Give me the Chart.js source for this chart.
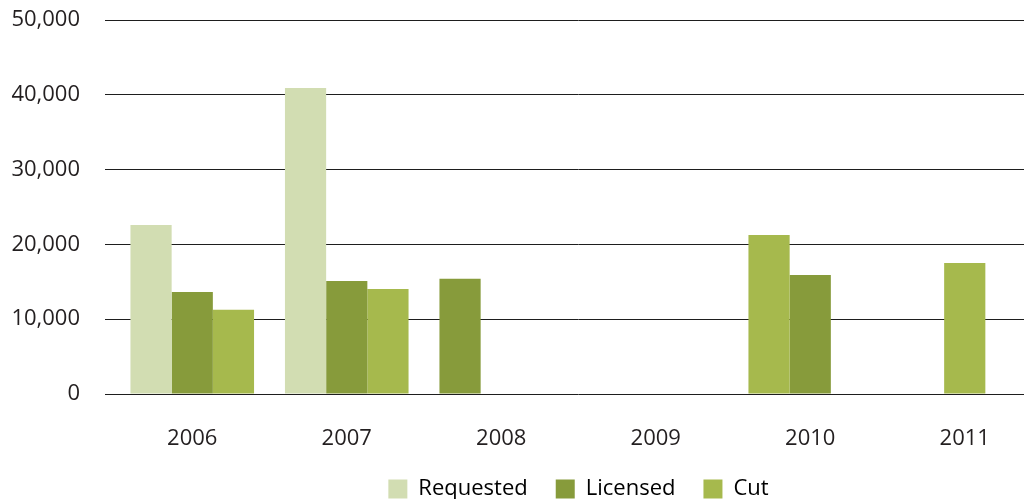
<!DOCTYPE html>
<html>
<head>
<meta charset="utf-8">
<script src="https://cdn.jsdelivr.net/npm/chart.js@4.4.1/dist/chart.umd.min.js"></script>
<style>
  html, body { margin: 0; padding: 0; background: #fff; }
  #frame { width: 1024px; height: 499px; overflow: hidden; position: relative; }
  #wrap { width: 1042px; height: 510px; position: absolute; left: 0; top: 0; }
</style>
</head>
<body>
<div id="frame"><div id="wrap"><canvas id="chart"></canvas></div></div>
<script>
const categories = ['2006', '2007', '2008', '2009', '2010', '2011'];
const seriesNames = ['Requested', 'Licensed', 'Cut'];
const requested = [22600, 40900, null, null, null, null];
const licensed = [13650, 15100, 15400, null, 15900, null];
const cut = [11250, 14050, null, null, 21250, 17500];
const yTicks = [0, 10000, 20000, 30000, 40000, 50000];

// order in which the bars sit inside each year, as the source drew them
const barOrder = [
    ['Requested', 'Licensed', 'Cut'],
    ['Requested', 'Licensed', 'Cut'],
    ['Licensed', null, null],
    [null, null, null],
    ['Cut', 'Licensed', null],
    [null, 'Cut', null],
];

const COLORS = {
    Requested: '#d2ddb2',
    Licensed: '#879b3b',
    Cut: '#a6b94d',
};
const VALUES = { Requested: requested, Licensed: licensed, Cut: cut };

const INK = '#231f20';
const FONT = '"Open Sans", sans-serif';

function fmt(v) {
    return String(v).replace(/\B(?=(\d{3})+(?!\d))/g, ',');
}

const datasets = [0, 1, 2].map(slot => ({
    label: 'slot' + slot,
    data: categories.map((c, i) => {
        const name = barOrder[i][slot];
        return name ? VALUES[name][i] : null;
    }),
    backgroundColor: categories.map((c, i) => {
        const name = barOrder[i][slot];
        return name ? COLORS[name] : 'rgba(0,0,0,0)';
    }),
    borderWidth: 0,
    categoryPercentage: 0.8,
    barPercentage: 1.0,
}));

const LEGEND_PAD = 28;

new Chart(document.getElementById('chart'), {
    type: 'bar',
    data: { labels: categories, datasets },
    options: {
        responsive: true,
        maintainAspectRatio: false,
        animation: false,
        layout: { padding: { left: 10, right: 0, top: 20, bottom: 0 } },
        plugins: {
            tooltip: { enabled: false },
            legend: {
                position: 'bottom',
                fullSize: false,
                onClick: null,
                labels: {
                    boxWidth: 19,
                    boxHeight: 19,
                    padding: LEGEND_PAD,
                    color: INK,
                    font: { family: FONT, size: 22 },
                    generateLabels: () => seriesNames.map((name, i) => ({
                        text: name,
                        fillStyle: COLORS[name],
                        strokeStyle: COLORS[name],
                        lineWidth: 0,
                        hidden: false,
                        datasetIndex: i,
                    })),
                },
            },
        },
        scales: {
            x: {
                grid: { display: false, drawTicks: false },
                border: { display: false },
                ticks: {
                    padding: 32,
                    color: INK,
                    font: { family: FONT, size: 22 },
                },
                afterFit: (scale) => { scale.height = 56; },
            },
            y: {
                min: 0,
                max: 50000,
                afterBuildTicks: (scale) => { scale.ticks = yTicks.map(v => ({ value: v })); },
                grid: { color: '#1e1e1e', lineWidth: 1, tickLength: 10, drawTicks: true },
                border: { display: false },
                ticks: {
                    padding: 25,
                    color: INK,
                    font: { family: FONT, size: 22 },
                    callback: (v) => fmt(v),
                },
                afterFit: (scale) => {
                    scale.width = 105;
                    scale.paddingTop = 12;
                    scale.paddingBottom = 12;
                },
            },
        },
    },
});
</script>
</body>
</html>
